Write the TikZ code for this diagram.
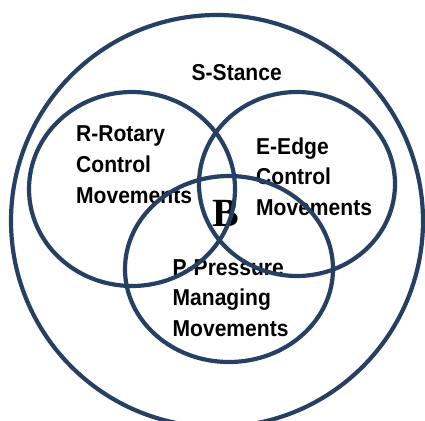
\documentclass[tikz,border=0pt]{standalone}
\usepackage{fontspec}
\newfontfamily\labfont[FakeStretch=0.915]{Liberation Sans}
\newfontfamily\bfont{Liberation Serif}
\definecolor{ringblue}{RGB}{38,64,100}
\begin{document}
\begin{tikzpicture}[x=1pt,y=-1pt,
  ring/.style={draw=ringblue,line width=4.2pt},
  lab/.style={font={\labfont\bfseries\fontsize{23}{30.7}\selectfont},align=left,anchor=base west,inner sep=0pt,text=black}]
\useasboundingbox[fill=white] (0,0) rectangle (425,420);
% multi-line nodes: base anchor = baseline of the last line
\node[lab] (s) at (191.5,80) {S-Stance};
\node[lab] (r) at (76,203) {R-Rotary\\Control\\Movements};
\node[lab] (e) at (256,215.5) {E-Edge\\Control\\Movements};
\node[lab] (p) at (172.5,336.5) {P-Pressure\\Managing\\Movements};
\node[font={\bfont\bfseries\fontsize{40}{40}\selectfont},anchor=base west,inner sep=0pt] (b) at (212.5,226.7) {B};
\draw[ring] (217,221) circle (206);
\draw[ring] (132,189) ellipse [x radius=103, y radius=97];
\draw[ring] (297,184) ellipse [x radius=98, y radius=92];
\draw[ring] (229,269) ellipse [x radius=104, y radius=93];
\end{tikzpicture}
\end{document}
